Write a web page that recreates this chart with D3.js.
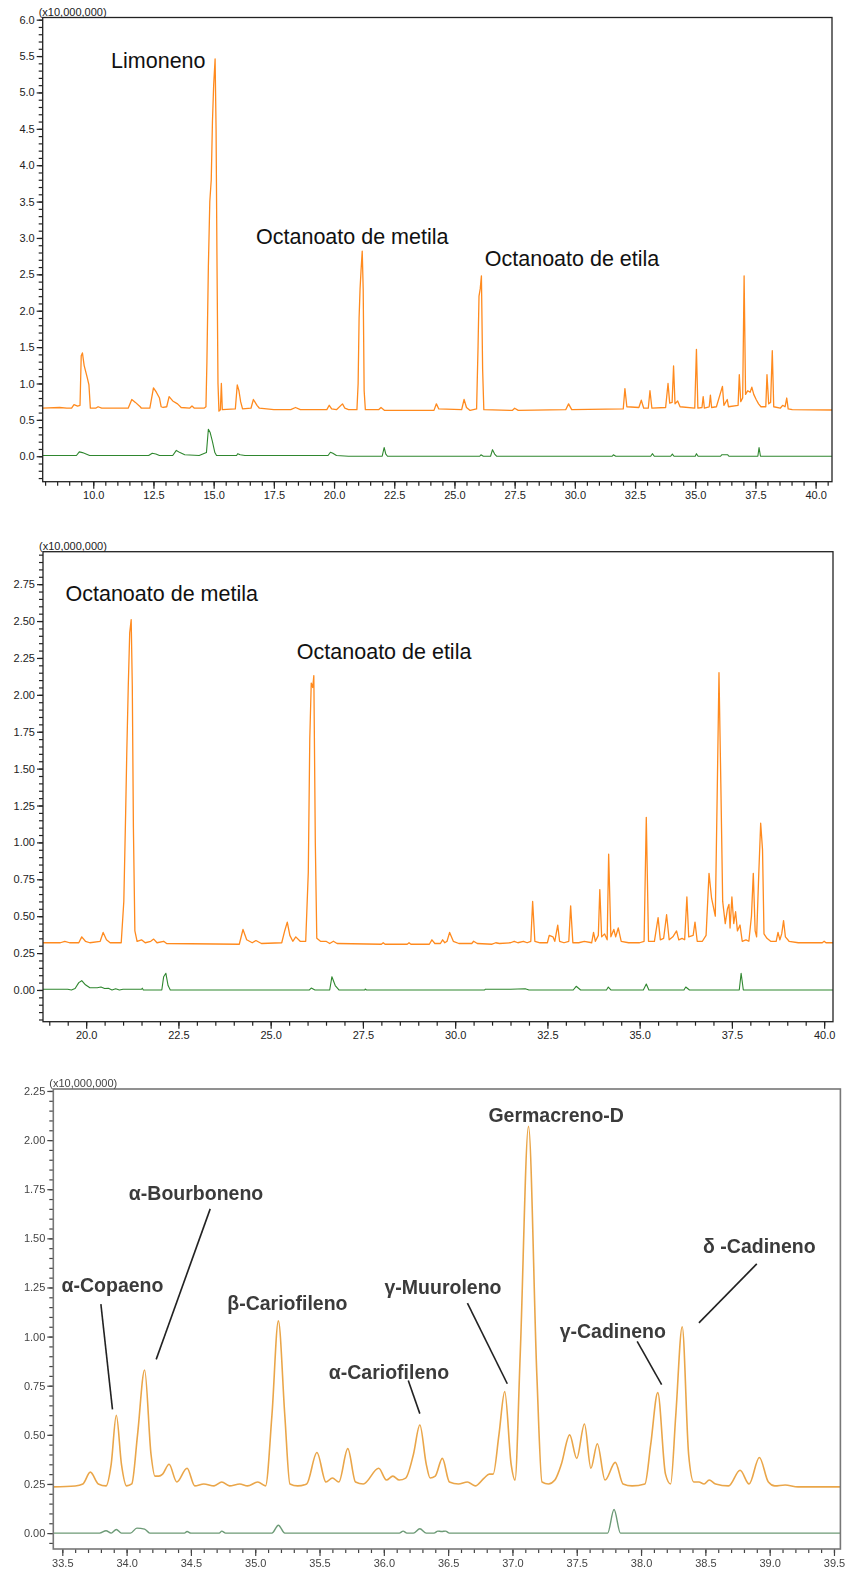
<!DOCTYPE html>
<html>
<head>
<meta charset="utf-8">
<script src="https://cdn.jsdelivr.net/npm/d3@7"></script>
<style>
  body { margin: 0; background: #fff; }
  svg { display: block; font-family: "Liberation Sans", Arial, sans-serif; }
</style>
</head>
<body>
<svg id="chart" width="845" height="1575"></svg>
<script>
// ---- tick labels ----
const p1XTicks = [10.0, 12.5, 15.0, 17.5, 20.0, 22.5, 25.0, 27.5, 30.0, 32.5, 35.0, 37.5, 40.0];
const p1YTicks = [0.0, 0.5, 1.0, 1.5, 2.0, 2.5, 3.0, 3.5, 4.0, 4.5, 5.0, 5.5, 6.0];
const p2XTicks = [20.0, 22.5, 25.0, 27.5, 30.0, 32.5, 35.0, 37.5, 40.0];
const p2YTicks = [0.00, 0.25, 0.50, 0.75, 1.00, 1.25, 1.50, 1.75, 2.00, 2.25, 2.50, 2.75];
const p3XTicks = [33.5, 34.0, 34.5, 35.0, 35.5, 36.0, 36.5, 37.0, 37.5, 38.0, 38.5, 39.0, 39.5];
const p3YTicks = [0.00, 0.25, 0.50, 0.75, 1.00, 1.25, 1.50, 1.75, 2.00, 2.25];

// ---- traces: [retention time (min), intensity (x10,000,000)] ----
const p1Orange = [[7.88,0.66],[8.6,0.67],[8.9,0.66],[9.1,0.66],[9.2,0.71],[9.35,0.69],[9.45,0.70],[9.5,1.38],[9.55,1.42],[9.62,1.25],[9.75,1.08],[9.82,0.98],[9.88,0.66],[10.1,0.66],[10.2,0.68],[10.35,0.66],
  [11.45,0.66],[11.6,0.78],[11.75,0.74],[11.95,0.68],[12.0,0.66],[12.35,0.66],[12.5,0.94],[12.62,0.88],[12.75,0.80],[12.82,0.68],[12.9,0.67],
  [13.05,0.68],[13.15,0.82],[13.3,0.76],[13.5,0.72],[13.65,0.67],[14.0,0.66],[14.1,0.69],[14.2,0.66],[14.6,0.66],
  [14.68,0.68],[14.72,1.3],[14.78,2.6],[14.84,3.5],[14.9,3.8],[14.95,4.6],[15.0,5.1],[15.06,5.46],[15.1,4.5],[15.14,2.6],[15.18,1.0],[15.22,0.62],[15.28,0.64],[15.32,1.0],[15.36,0.64],
  [15.9,0.65],[15.98,0.98],[16.05,0.90],[16.12,0.75],[16.2,0.65],[16.55,0.66],[16.65,0.78],[16.8,0.70],[16.9,0.66],
  [17.5,0.64],[18.2,0.64],[18.4,0.67],[18.6,0.64],[19.7,0.64],[19.8,0.70],[19.9,0.65],[20.1,0.64],[20.35,0.72],[20.45,0.66],[20.6,0.64],[20.95,0.64],
  [21.0,1.0],[21.04,1.9],[21.08,2.3],[21.12,2.55],[21.17,2.82],[21.21,2.3],[21.25,0.9],[21.3,0.64],
  [21.85,0.64],[21.95,0.67],[22.1,0.63],[24.15,0.63],[24.25,0.72],[24.35,0.65],[25.3,0.64],[25.4,0.78],[25.5,0.67],[25.65,0.63],
  [25.92,0.65],[25.98,1.5],[26.02,2.2],[26.07,2.3],[26.12,2.48],[26.17,1.2],[26.22,0.64],
  [27.4,0.63],[27.5,0.66],[27.65,0.63],[29.62,0.64],[29.74,0.72],[29.87,0.64],
  [32.01,0.65],[32.08,0.93],[32.16,0.68],[32.66,0.67],[32.76,0.77],[32.86,0.66],[33.05,0.66],[33.12,0.90],[33.2,0.66],[33.77,0.67],[33.87,1.0],[33.94,0.73],[34.04,0.74],[34.1,1.24],[34.16,0.72],[34.27,0.76],[34.37,0.68],
  [34.98,0.66],[35.05,1.47],[35.11,0.66],[35.28,0.67],[35.33,0.82],[35.38,0.66],[35.58,0.68],[35.63,0.84],[35.68,0.67],[35.88,0.68],[36.13,0.96],[36.19,0.70],[36.33,0.78],[36.38,0.68],
  [36.78,0.70],[36.83,1.12],[36.89,0.75],[36.97,0.80],[37.03,2.48],[37.09,0.85],[37.18,0.9],[37.28,0.88],[37.35,0.95],[37.43,0.85],[37.53,0.78],[37.63,0.72],[37.73,0.68],
  [37.93,0.68],[37.98,1.12],[38.05,0.72],[38.13,0.74],[38.2,1.45],[38.26,0.68],[38.53,0.66],[38.63,0.70],[38.73,0.68],[38.8,0.8],[38.86,0.65],[39.03,0.64],[40.74,0.635]];

const p1Green = [[7.88,0.01],[9.3,0.01],[9.42,0.06],[9.55,0.05],[9.7,0.03],[9.85,0.01],[12.3,0.01],[12.45,0.04],[12.6,0.03],[12.75,0.01],[13.3,0.01],[13.45,0.08],[13.6,0.05],[13.8,0.02],[14.4,0.01],
  [14.7,0.05],[14.78,0.37],[14.85,0.33],[14.95,0.2],[15.05,0.05],[15.12,0.01],[15.95,0.01],[16.0,0.035],[16.1,0.02],[16.3,0.01],[19.75,0.01],[19.85,0.055],[19.95,0.04],[20.1,0.01],[20.6,0.0],
  [22.0,0.0],[22.08,0.12],[22.15,0.03],[22.22,0.0],[26.05,0.0],[26.1,0.02],[26.2,0.0],[26.5,0.0],[26.58,0.09],[26.67,0.03],[26.75,0.0],[31.55,0.0],[31.6,0.02],[31.7,0.0],
  [33.15,0.0],[33.22,0.035],[33.3,0.0],[33.98,0.0],[34.05,0.03],[34.12,0.0],[35.0,0.0],[35.05,0.035],[35.12,0.0],[36.05,0.0],[36.1,0.02],[36.35,0.02],[36.4,0.0],[37.6,0.0],[37.65,0.12],[37.71,0.0],[40.74,0.0]];

const p2Orange = [[18.8,0.32],[19.3,0.32],[19.42,0.33],[19.55,0.32],[19.8,0.32],[19.88,0.36],[19.98,0.33],[20.1,0.32],[20.38,0.33],[20.46,0.39],[20.55,0.34],[20.65,0.32],[20.95,0.32],
  [21.02,0.6],[21.07,1.2],[21.1,1.6],[21.14,2.05],[21.18,2.42],[21.22,2.51],[21.25,2.06],[21.28,1.1],[21.32,0.4],[21.38,0.33],[21.5,0.34],[21.6,0.32],[21.75,0.33],[21.83,0.345],[21.92,0.32],[22.1,0.33],[22.18,0.315],
  [24.15,0.31],[24.25,0.41],[24.35,0.34],[24.5,0.32],[24.6,0.335],[24.75,0.315],[25.3,0.32],[25.38,0.4],[25.45,0.46],[25.52,0.37],[25.6,0.33],[25.68,0.36],[25.8,0.33],[25.95,0.33],
  [26.02,0.8],[26.06,1.7],[26.1,2.08],[26.14,2.05],[26.17,2.13],[26.21,1.0],[26.25,0.35],[26.35,0.33],[26.5,0.33],[26.6,0.315],[26.7,0.33],[26.8,0.315],
  [28.0,0.31],[28.05,0.32],[28.1,0.31],[28.7,0.31],[28.75,0.32],[28.8,0.31],[29.3,0.31],[29.37,0.34],[29.45,0.315],[29.6,0.315],[29.66,0.34],[29.72,0.32],[29.78,0.33],[29.85,0.39],[29.95,0.33],[30.1,0.315],[30.45,0.315],[30.5,0.33],[30.6,0.315],
  [31.0,0.31],[31.1,0.32],[31.2,0.315],[31.5,0.32],[31.6,0.33],[31.7,0.32],[31.85,0.33],[31.95,0.32],[32.05,0.33],[32.1,0.6],[32.16,0.33],[32.3,0.32],[32.5,0.32],[32.55,0.37],[32.65,0.36],[32.7,0.33],[32.78,0.44],[32.83,0.33],[32.95,0.32],
  [33.08,0.33],[33.13,0.57],[33.19,0.32],[33.35,0.32],[33.5,0.33],[33.7,0.32],[33.75,0.39],[33.8,0.33],[33.88,0.37],[33.92,0.68],[33.97,0.36],[34.05,0.38],[34.12,0.34],[34.16,0.92],[34.22,0.36],[34.3,0.41],[34.35,0.36],[34.42,0.42],[34.5,0.33],
  [34.7,0.32],[35.0,0.32],[35.12,0.33],[35.18,1.17],[35.24,0.33],[35.4,0.33],[35.5,0.49],[35.56,0.34],[35.65,0.35],[35.73,0.51],[35.8,0.34],[35.9,0.36],[36.0,0.40],[36.06,0.34],[36.15,0.35],[36.22,0.34],[36.28,0.63],[36.33,0.36],[36.45,0.37],[36.5,0.46],[36.56,0.33],
  [36.7,0.33],[36.8,0.37],[36.88,0.79],[36.95,0.62],[37.05,0.5],[37.1,1.3],[37.15,2.15],[37.2,1.4],[37.25,0.6],[37.32,0.45],[37.38,0.55],[37.42,0.58],[37.45,0.42],[37.5,0.63],[37.55,0.45],[37.6,0.53],[37.65,0.4],[37.72,0.44],[37.78,0.33],
  [37.88,0.34],[37.96,0.33],[38.03,0.5],[38.08,0.79],[38.13,0.4],[38.17,0.36],[38.23,0.8],[38.28,1.13],[38.33,0.95],[38.37,0.38],[38.45,0.35],[38.55,0.33],[38.7,0.33],[38.75,0.39],[38.8,0.34],[38.85,0.38],[38.9,0.47],[38.95,0.36],[39.05,0.33],
  [39.3,0.32],[39.95,0.32],[40.0,0.33],[40.05,0.32],[40.4,0.32]];

const p2Green = [[18.8,0.005],[19.5,0.005],[19.6,0.0],[19.7,0.01],[19.8,0.05],[19.88,0.063],[19.98,0.035],[20.1,0.015],[20.3,0.015],[20.4,0.02],[20.5,0.01],[20.6,0.012],[20.7,0.0],[20.8,0.008],[20.9,0.0],[21.0,0.005],[21.5,0.005],[21.52,0.012],[21.55,0.0],
  [22.05,0.0],[22.1,0.09],[22.16,0.113],[22.22,0.03],[22.28,0.0],[26.05,0.0],[26.1,0.013],[26.2,0.0],[26.6,0.0],[26.66,0.09],[26.75,0.03],[26.85,0.0],[27.55,0.0],[27.56,0.006],[27.6,0.0],
  [30.8,0.0],[30.82,0.005],[31.5,0.005],[31.9,0.008],[32.0,0.0],[33.2,0.0],[33.28,0.025],[33.4,0.0],[34.1,0.0],[34.15,0.02],[34.22,0.0],[35.1,0.0],[35.18,0.04],[35.25,0.0],[36.2,0.0],[36.25,0.02],[36.35,0.0],
  [37.7,0.0],[37.75,0.113],[37.81,0.0],[40.4,0.0]];

const p3Orange = [[33.43,0.235],[33.6,0.24],[33.66,0.25],[33.718,0.31],[33.78,0.25],[33.84,0.24],[33.88,0.35],[33.92,0.60],[33.96,0.35],[34.0,0.24],[34.04,0.25],[34.085,0.5],[34.14,0.83],[34.19,0.4],[34.22,0.29],[34.25,0.29],[34.28,0.3],[34.33,0.35],[34.39,0.26],[34.47,0.33],[34.53,0.24],
  [34.6,0.25],[34.68,0.24],[34.74,0.26],[34.8,0.24],[34.88,0.25],[34.94,0.24],[35.02,0.26],[35.08,0.24],[35.13,0.6],[35.18,1.08],[35.23,0.6],[35.27,0.25],[35.33,0.24],[35.4,0.25],[35.48,0.41],[35.55,0.26],[35.6,0.28],[35.65,0.26],[35.72,0.43],[35.78,0.26],[35.84,0.25],
  [35.96,0.33],[36.02,0.27],[36.07,0.29],[36.12,0.27],[36.17,0.28],[36.23,0.4],[36.28,0.55],[36.33,0.35],[36.36,0.28],[36.4,0.29],[36.455,0.38],[36.51,0.26],[36.58,0.25],[36.65,0.26],[36.71,0.24],[36.78,0.28],[36.82,0.30],[36.85,0.3],
  [36.895,0.5],[36.94,0.72],[36.99,0.35],[37.02,0.27],[37.06,0.9],[37.125,2.07],[37.19,0.8],[37.23,0.26],[37.28,0.25],[37.33,0.27],[37.38,0.35],[37.445,0.50],[37.5,0.38],[37.56,0.555],[37.61,0.33],[37.66,0.455],[37.72,0.27],[37.80,0.36],[37.86,0.25],
  [37.93,0.24],[38.03,0.25],[38.075,0.45],[38.13,0.715],[38.19,0.3],[38.23,0.25],[38.27,0.6],[38.32,1.05],[38.37,0.4],[38.41,0.26],[38.45,0.26],[38.49,0.25],[38.53,0.27],[38.58,0.25],[38.68,0.24],[38.77,0.32],[38.84,0.25],[38.92,0.385],[38.99,0.26],[39.04,0.24],[39.12,0.245],[39.22,0.235],[39.55,0.235]];

const p3Green = [[33.43,0.0],[33.79,0.0],[33.84,0.012],[33.88,0.0],[33.92,0.018],[33.96,0.0],[34.03,0.0],[34.08,0.025],[34.14,0.02],[34.18,0.0],[34.45,0.0],[34.47,0.008],[34.5,0.0],[34.72,0.0],[34.74,0.01],[34.77,0.0],
  [35.13,0.0],[35.18,0.04],[35.23,0.0],[36.12,0.0],[36.15,0.01],[36.18,0.0],[36.23,0.0],[36.28,0.022],[36.33,0.0],[36.39,0.0],[36.42,0.01],[36.45,0.008],[36.48,0.01],[36.51,0.0],[37.74,0.0],[37.79,0.12],[37.84,0.0],[39.55,0.0]];

// ---- peak annotations (retention time, intensity) ----
const p1Labels = [
  { text: 'Limoneno', t: 10.74, v: 5.335 },
  { text: 'Octanoato de metila', t: 16.76, v: 2.92 },
  { text: 'Octanoato de etila', t: 26.26, v: 2.61 }
];
const p2Labels = [
  { text: 'Octanoato de metila', t: 19.44, v: 2.635 },
  { text: 'Octanoato de etila', t: 25.71, v: 2.24 }
];
const p3Labels = [
  { text: 'Germacreno-D', t: 37.34, v: 2.13 },
  { text: 'α-Bourboneno', t: 34.54, v: 1.73 },
  { text: 'δ -Cadineno', t: 38.92, v: 1.46 },
  { text: 'α-Copaeno', t: 33.89, v: 1.26 },
  { text: 'γ-Muuroleno', t: 36.46, v: 1.25 },
  { text: 'β-Cariofileno', t: 35.25, v: 1.17 },
  { text: 'γ-Cadineno', t: 37.78, v: 1.03 },
  { text: 'α-Cariofileno', t: 36.04, v: 0.82 }
];
// leader lines: [t1, v1, t2, v2]
const p3Leaders = [
  [33.80, 1.165, 33.89, 0.63],
  [34.65, 1.65, 34.23, 0.884],
  [36.19, 0.776, 36.28, 0.608],
  [36.65, 1.17, 36.96, 0.76],
  [37.97, 0.976, 38.16, 0.756],
  [38.90, 1.37, 38.45, 1.07]
];

const svg = d3.select('#chart');
svg.append('defs').append('filter').attr('id', 'soft')
    .append('feGaussianBlur').attr('stdDeviation', 0.5);

const panels = [
  {
    id: 'p1', left: 42.7, right: 832, top: 17.5, bottom: 481.7,
    xDomain: [7.9, 40.68], yDomain: [-0.35, 6.03],
    xTicks: p1XTicks, xMinor: d3.range(8, 40.6, 0.5),
    yTicks: p1YTicks, yMinor: d3.range(-0.3, 6.01, 0.1), yFmt: '.1f', xFmt: '.1f',
    traces: [{ data: p1Orange, color: '#ff8a1e', w: 1.3 }, { data: p1Green, color: '#2f872f', w: 1.1 }],
    curve: d3.curveLinear, labels: p1Labels, labelSize: 21.5, labelColor: '#111', anchor: 'start',
    frame: '#222', tickColor: '#222', textColor: '#222'
  },
  {
    id: 'p2', left: 43, right: 833, top: 551.7, bottom: 1021.7,
    xDomain: [18.83, 40.24], yDomain: [-0.215, 2.97],
    xTicks: p2XTicks, xMinor: d3.range(19, 40.2, 0.5),
    yTicks: p2YTicks, yMinor: d3.range(-0.2, 2.96, 0.05), yFmt: '.2f', xFmt: '.1f',
    traces: [{ data: p2Orange, color: '#ff8a1e', w: 1.3 }, { data: p2Green, color: '#2f872f', w: 1.1 }],
    curve: d3.curveLinear, labels: p2Labels, labelSize: 21.5, labelColor: '#111', anchor: 'start',
    frame: '#222', tickColor: '#222', textColor: '#222'
  },
  {
    id: 'p3', left: 53.3, right: 840.4, top: 1089, bottom: 1549,
    xDomain: [33.43, 39.55], yDomain: [-0.081, 2.26],
    xTicks: p3XTicks, xMinor: d3.range(33.5, 39.55, 0.1),
    yTicks: p3YTicks, yMinor: d3.range(-0.05, 2.26, 0.05), yFmt: '.2f', xFmt: '.1f',
    traces: [{ data: p3Orange, color: '#eaa64a', w: 1.6 }, { data: p3Green, color: '#6c9a76', w: 1.4 }],
    curve: d3.curveMonotoneX, labels: p3Labels, leaders: p3Leaders, labelSize: 19.5, labelColor: '#3a3a3a', anchor: 'middle',
    frame: '#777', tickColor: '#444', textColor: '#444', blur: true
  }
];

panels.forEach(drawPanel);

function drawPanel(p) {
  const g = svg.append('g').attr('class', p.id);
  if (p.blur) g.attr('filter', 'url(#soft)');

  const x = d3.scaleLinear().domain(p.xDomain).range([p.left, p.right]);
  const y = d3.scaleLinear().domain(p.yDomain).range([p.bottom, p.top]);

  g.append('clipPath').attr('id', 'clip-' + p.id)
    .append('rect')
    .attr('x', p.left).attr('y', p.top)
    .attr('width', p.right - p.left).attr('height', p.bottom - p.top);

  // minor ticks
  g.append('g')
    .attr('transform', `translate(0,${p.bottom})`)
    .call(d3.axisBottom(x).tickValues(p.xMinor).tickSize(4).tickFormat(''));
  g.append('g')
    .attr('transform', `translate(${p.left},0)`)
    .call(d3.axisLeft(y).tickValues(p.yMinor).tickSize(4).tickFormat(''));

  // major ticks + labels
  g.append('g')
    .attr('class', 'xaxis')
    .attr('transform', `translate(0,${p.bottom})`)
    .call(d3.axisBottom(x).tickValues(p.xTicks).tickSize(7).tickPadding(3).tickFormat(d3.format(p.xFmt)));
  g.append('g')
    .attr('class', 'yaxis')
    .attr('transform', `translate(${p.left},0)`)
    .call(d3.axisLeft(y).tickValues(p.yTicks).tickSize(6).tickPadding(2).tickFormat(d3.format(p.yFmt)));

  g.selectAll('.domain').remove();
  g.selectAll('.tick line').attr('stroke', p.tickColor).attr('stroke-width', 1.2);
  g.selectAll('.tick text')
    .attr('fill', p.textColor)
    .style('font-size', '11px')
    .style('font-family', '"Liberation Sans", Arial, sans-serif');

  // traces
  const line = d3.line()
    .x(d => x(d[0]))
    .y(d => y(d[1]))
    .curve(p.curve);

  g.append('g')
    .attr('clip-path', `url(#clip-${p.id})`)
    .selectAll('path.trace')
    .data(p.traces)
    .join('path')
    .attr('class', 'trace')
    .attr('fill', 'none')
    .attr('stroke', d => d.color)
    .attr('stroke-width', d => d.w)
    .attr('stroke-linejoin', 'round')
    .attr('d', d => line(d.data));

  // frame
  g.append('rect')
    .attr('x', p.left).attr('y', p.top)
    .attr('width', p.right - p.left).attr('height', p.bottom - p.top)
    .attr('fill', 'none')
    .attr('stroke', p.frame)
    .attr('stroke-width', p.blur ? 1.6 : 1.3);

  // unit label
  g.append('text')
    .attr('x', p.left - 4)
    .attr('y', p.top - 2)
    .attr('fill', p.textColor)
    .style('font-size', '11px')
    .text('(x10,000,000)');

  // leader lines
  if (p.leaders) {
    g.selectAll('line.leader')
      .data(p.leaders)
      .join('line')
      .attr('class', 'leader')
      .attr('x1', d => x(d[0])).attr('y1', d => y(d[1]))
      .attr('x2', d => x(d[2])).attr('y2', d => y(d[3]))
      .attr('stroke', '#222')
      .attr('stroke-width', 1.6);
  }

  // peak names
  g.selectAll('text.ann')
    .data(p.labels)
    .join('text')
    .attr('class', 'ann')
    .attr('x', d => x(d.t))
    .attr('y', d => y(d.v))
    .attr('text-anchor', p.anchor)
    .attr('dominant-baseline', p.anchor === 'middle' ? 'central' : 'auto')
    .attr('fill', p.labelColor)
    .style('font-size', p.labelSize + 'px')
    .style('font-weight', p.blur ? 'bold' : 'normal')
    .text(d => d.text);
}
</script>
</body>
</html>
